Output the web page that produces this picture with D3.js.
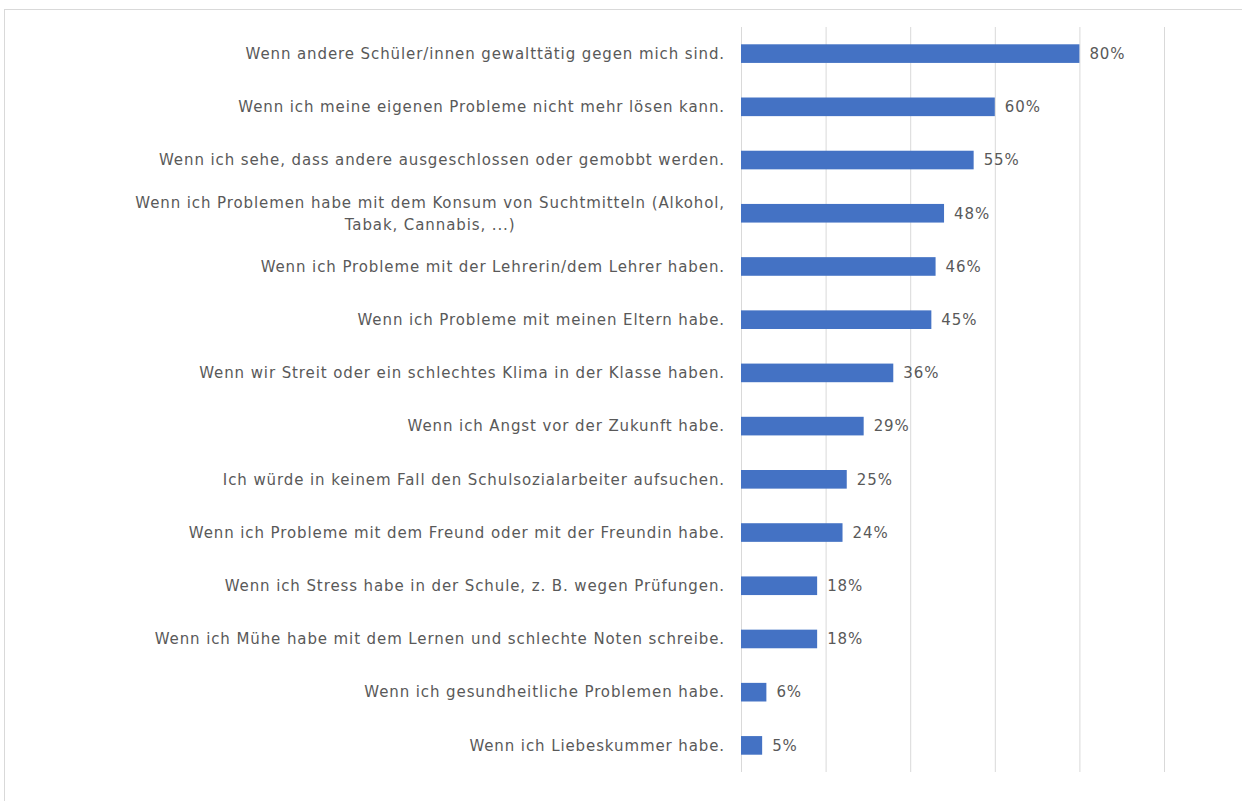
<!DOCTYPE html>
<html>
<head>
<meta charset="utf-8">
<script src="https://cdn.jsdelivr.net/npm/d3@7"></script>
<style>
  body { margin: 0; background: #fff; }
  text { font-family: "DejaVu Sans", sans-serif; fill: #595959; letter-spacing: 0.9px; }
</style>
</head>
<body>
<script>
//answer categories, top to bottom (one entry per line of a label)
var categories = [
    ["Wenn andere Schüler/innen gewalttätig gegen mich sind."],
    ["Wenn ich meine eigenen Probleme nicht mehr lösen kann."],
    ["Wenn ich sehe, dass andere ausgeschlossen oder gemobbt werden."],
    ["Wenn ich Problemen habe mit dem Konsum von Suchtmitteln (Alkohol,", "Tabak, Cannabis, ...)"],
    ["Wenn ich Probleme mit der Lehrerin/dem Lehrer haben."],
    ["Wenn ich Probleme mit meinen Eltern habe."],
    ["Wenn wir Streit oder ein schlechtes Klima in der Klasse haben."],
    ["Wenn ich Angst vor der Zukunft habe."],
    ["Ich würde in keinem Fall den Schulsozialarbeiter aufsuchen."],
    ["Wenn ich Probleme mit dem Freund oder mit der Freundin habe."],
    ["Wenn ich Stress habe in der Schule, z. B. wegen Prüfungen."],
    ["Wenn ich Mühe habe mit dem Lernen und schlechte Noten schreibe."],
    ["Wenn ich gesundheitliche Problemen habe."],
    ["Wenn ich Liebeskummer habe."]
];

//share of answers in percent
var values = [80, 60, 55, 48, 46, 45, 36, 29, 25, 24, 18, 18, 6, 5];

//gridline positions
var gridTicks = [0, 20, 40, 60, 80, 100];

window.onload = drawChart;

function drawChart(){
    var width = 1242,
        height = 801;

    var svg = d3.select("body")
        .append("svg")
        .attr("width", width)
        .attr("height", height);

    //light frame round the chart area
    svg.append("rect")
        .attr("x", 4.5)
        .attr("y", 9.5)
        .attr("width", 1260)
        .attr("height", 820)
        .attr("fill", "none")
        .attr("stroke", "#d9d9d9");

    var x = d3.scaleLinear()
        .domain([0, 100])
        .range([741, 1164]);

    var y = d3.scaleBand()
        .domain(d3.range(values.length))
        .range([27, 772])
        .paddingInner(0.65)
        .paddingOuter(0.325);

    //vertical gridlines
    svg.append("g")
        .attr("transform", "translate(0,772)")
        .call(d3.axisBottom(x).tickValues(gridTicks).tickSize(-745).tickFormat(""))
        .call(function(g){
            g.select(".domain").remove();
            g.selectAll(".tick line").attr("stroke", "#d9d9d9");
        });

    //bars
    svg.selectAll(".bar")
        .data(values)
        .enter()
        .append("rect")
        .attr("class", "bar")
        .attr("x", x(0))
        .attr("y", function(d, i){ return y(i); })
        .attr("width", function(d){ return x(d) - x(0); })
        .attr("height", y.bandwidth())
        .attr("fill", "#4472c4");

    //value labels
    svg.selectAll(".value")
        .data(values)
        .enter()
        .append("text")
        .attr("class", "value")
        .attr("x", function(d){ return x(d) + 10; })
        .attr("y", function(d, i){ return y(i) + y.bandwidth() / 2; })
        .attr("dy", "0.35em")
        .style("font-size", "15px")
        .text(function(d){ return d + "%"; });

    //category labels, wrapped ones centred on the longest line
    var labels = svg.selectAll(".label")
        .data(categories)
        .enter()
        .append("text")
        .attr("class", "label")
        .style("font-size", "15px")
        .attr("y", function(d, i){ return y(i) + y.bandwidth() / 2; });

    labels.each(function(lines){
        var t = d3.select(this),
            lineH = 22,
            top = -(lines.length - 1) * lineH / 2;
        lines.forEach(function(line, k){
            t.append("tspan")
                .attr("dy", k == 0 ? (top / 15 + 0.35) + "em" : lineH + "px")
                .text(line);
        });
        //right-align the block, centre each line inside it
        var spans = t.selectAll("tspan").nodes(),
            widths = spans.map(function(s){ return s.getComputedTextLength(); }),
            maxW = d3.max(widths),
            right = 725;
        spans.forEach(function(s, k){
            d3.select(s).attr("x", right - maxW + (maxW - widths[k]) / 2);
        });
    });
}
</script>
</body>
</html>
